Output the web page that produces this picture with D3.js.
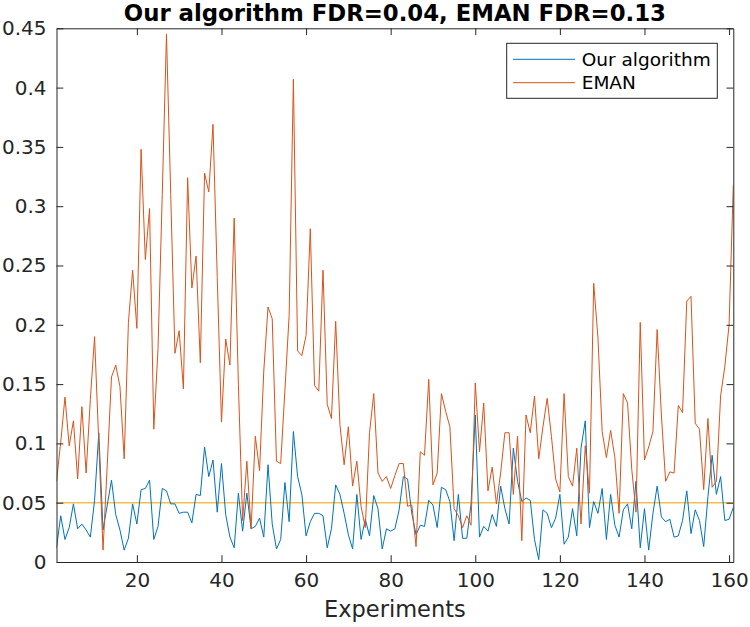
<!DOCTYPE html>
<html>
<head>
<meta charset="utf-8">
<script src="https://cdn.jsdelivr.net/npm/d3@7"></script>
<style>
  html, body { margin: 0; padding: 0; background: #fff; }
  svg { display: block; font-family: "DejaVu Sans", sans-serif; }
</style>
</head>
<body>
<svg id="chart" width="750" height="627"></svg>
<script>
// ---- data ----
const experiments = d3.range(1, 162);
const ourAlgorithm = [
  0.012,0.039,0.019,0.029,0.049,0.028,0.032,0.027,0.021,0.052,
  0.109,0.027,0.048,0.069,0.040,0.027,0.010,0.020,0.049,0.032,
  0.061,0.062,0.069,0.019,0.030,0.062,0.060,0.049,0.049,0.041,
  0.042,0.042,0.033,0.057,0.056,0.097,0.072,0.086,0.042,0.083,
  0.040,0.021,0.012,0.058,0.026,0.058,0.028,0.030,0.037,0.021,
  0.082,0.032,0.011,0.019,0.067,0.034,0.110,0.072,0.057,0.022,
  0.034,0.041,0.041,0.039,0.012,0.028,0.065,0.057,0.041,0.023,
  0.011,0.057,0.019,0.036,0.022,0.056,0.045,0.011,0.028,0.026,
  0.028,0.044,0.072,0.070,0.041,0.023,0.031,0.030,0.052,0.048,
  0.029,0.063,0.061,0.051,0.018,0.057,0.020,0.020,0.049,0.124,
  0.021,0.030,0.026,0.040,0.030,0.064,0.045,0.032,0.096,0.068,
  0.051,0.054,0.052,0.019,0.002,0.044,0.041,0.029,0.037,0.057,
  0.015,0.021,0.045,0.022,0.096,0.119,0.029,0.051,0.041,0.062,
  0.019,0.057,0.031,0.021,0.044,0.049,0.028,0.068,0.012,0.045,
  0.010,0.041,0.064,0.038,0.034,0.036,0.021,0.022,0.035,0.060,
  0.024,0.044,0.035,0.013,0.055,0.090,0.057,0.072,0.035,0.036,
  0.046
];
const eman = [
  0.068,0.101,0.139,0.098,0.119,0.070,0.131,0.075,0.137,0.190,
  0.100,0.010,0.082,0.156,0.166,0.148,0.087,0.202,0.246,0.197,
  0.348,0.255,0.298,0.112,0.180,0.310,0.445,0.310,0.176,0.195,
  0.146,0.324,0.231,0.258,0.168,0.328,0.312,0.369,0.240,0.118,
  0.188,0.166,0.290,0.150,0.035,0.085,0.028,0.106,0.077,0.161,
  0.215,0.205,0.085,0.083,0.145,0.208,0.407,0.178,0.174,0.191,
  0.281,0.149,0.144,0.246,0.133,0.121,0.203,0.116,0.082,0.114,
  0.064,0.085,0.047,0.029,0.109,0.142,0.075,0.068,0.072,0.062,
  0.073,0.083,0.083,0.047,0.048,0.013,0.093,0.090,0.154,0.065,
  0.075,0.142,0.127,0.114,0.045,0.039,0.029,0.039,0.031,0.151,
  0.093,0.134,0.060,0.080,0.049,0.075,0.109,0.109,0.057,0.106,
  0.018,0.124,0.109,0.140,0.087,0.114,0.138,0.106,0.070,0.059,
  0.142,0.072,0.064,0.096,0.032,0.098,0.058,0.235,0.189,0.110,
  0.088,0.111,0.088,0.041,0.142,0.134,0.078,0.042,0.202,0.086,
  0.097,0.110,0.196,0.124,0.068,0.076,0.075,0.132,0.126,0.220,
  0.224,0.117,0.112,0.061,0.121,0.063,0.068,0.140,0.165,0.200,
  0.318
];
const threshold = 0.05;
const xTicks = [20, 40, 60, 80, 100, 120, 140, 160];
const yTicks = [0, 0.05, 0.1, 0.15, 0.2, 0.25, 0.3, 0.35, 0.4, 0.45];
const seriesNames = ["Our algorithm", "EMAN"];
const titleText = "Our algorithm FDR=0.04, EMAN FDR=0.13";
const xLabelText = "Experiments";

// ---- layout ----
const L = 56.5, R = 733.3, T = 28.3, B = 562;
const axisColor = "#262626";
const colors = ["#0072BD", "#D95319"];
const tickLen = 6.8;

const svg = d3.select("#chart");
svg.append("rect").attr("width", 750).attr("height", 627).attr("fill", "#fff");

const x = d3.scaleLinear().domain([1, 161]).range([L, R]);
const y = d3.scaleLinear().domain([0, 0.45]).range([B, T]);

svg.append("defs").append("clipPath").attr("id", "clip")
  .append("rect").attr("x", L).attr("y", T).attr("width", R - L).attr("height", B - T);

const plot = svg.append("g").attr("clip-path", "url(#clip)");

// threshold line
plot.append("line")
  .attr("x1", x(1)).attr("x2", x(161))
  .attr("y1", y(threshold)).attr("y2", y(threshold))
  .attr("stroke", "#EDB120").attr("stroke-opacity", 0.8).attr("stroke-width", 1.5);

const line = d3.line().x((d, i) => x(experiments[i])).y(d => y(d));
[ourAlgorithm, eman].forEach((s, k) => {
  plot.append("path").datum(s)
    .attr("fill", "none")
    .attr("stroke", colors[k])
    .attr("stroke-width", 1)
    .attr("stroke-linejoin", "round")
    .attr("d", line);
});

// axes
function styleAxis(g) {
  g.selectAll("path.domain").attr("stroke", axisColor).attr("stroke-width", 1);
  g.selectAll(".tick line").attr("stroke", axisColor).attr("stroke-width", 1);
  g.selectAll(".tick text").attr("fill", axisColor).style("font-size", "20px")
    .style("font-family", "'DejaVu Sans', sans-serif");
}
svg.append("g").attr("transform", `translate(0,${B})`)
  .call(d3.axisBottom(x).tickValues(xTicks).tickSizeInner(-tickLen).tickSizeOuter(0).tickPadding(11))
  .call(styleAxis);
svg.append("g").attr("transform", `translate(0,${T})`)
  .call(d3.axisTop(x).tickValues(xTicks).tickSizeInner(-tickLen).tickSizeOuter(0).tickFormat(""))
  .call(styleAxis);
svg.append("g").attr("transform", `translate(${L},0)`)
  .call(d3.axisLeft(y).tickValues(yTicks).tickSizeInner(-tickLen).tickSizeOuter(0).tickPadding(10)
    .tickFormat(d3.format("~g")))
  .call(styleAxis);
svg.append("g").attr("transform", `translate(${R},0)`)
  .call(d3.axisRight(y).tickValues(yTicks).tickSizeInner(-tickLen).tickSizeOuter(0).tickFormat(""))
  .call(styleAxis);

// title and label
svg.append("text").attr("x", (L + R) / 2).attr("y", 20.5)
  .attr("text-anchor", "middle").attr("font-weight", "bold")
  .style("font-size", "22.8px").attr("fill", "#000").text(titleText);
svg.append("text").attr("x", (L + R) / 2).attr("y", 617)
  .attr("text-anchor", "middle").style("font-size", "22.5px")
  .attr("fill", axisColor).text(xLabelText);

// legend
const lg = svg.append("g");
lg.append("rect").attr("x", 506.7).attr("y", 43.3).attr("width", 210.6).attr("height", 55)
  .attr("fill", "#fff").attr("stroke", axisColor).attr("stroke-width", 1);
seriesNames.forEach((name, k) => {
  const yy = 59.3 + k * 23.4;
  lg.append("line").attr("x1", 513).attr("x2", 575).attr("y1", yy).attr("y2", yy)
    .attr("stroke", colors[k]).attr("stroke-width", 1);
  lg.append("text").attr("x", 581.7).attr("y", yy).attr("dy", "0.36em")
    .style("font-size", "18.5px").attr("fill", "#000").text(name);
});
</script>
</body>
</html>
